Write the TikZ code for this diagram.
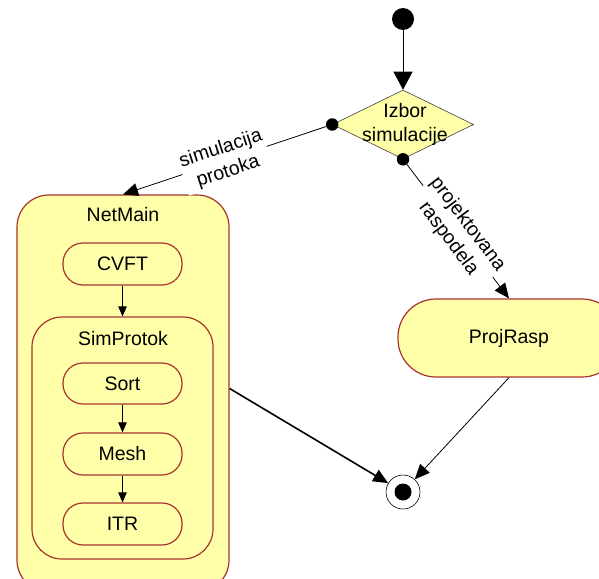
\documentclass[tikz,border=0pt]{standalone}
\usepackage{fontspec}
\setmainfont{Liberation Sans}
\usetikzlibrary{shapes.geometric,arrows.meta}
\definecolor{stfill}{HTML}{FFFFAA}
\definecolor{stdraw}{HTML}{A8332B}
\begin{document}
\begin{tikzpicture}[x=1pt,y=-1pt,
  font=\fontsize{19.5}{24}\selectfont,
  state/.style={draw=stdraw,fill=stfill,line width=1.2pt,rounded corners=#1,inner sep=0pt},
  dot/.style={circle,fill=black,minimum size=12.5pt,inner sep=0pt},
  edge/.style={-{Triangle[length=15pt,width=13pt]},line width=0.8pt},
  small/.style={-{Triangle[length=10pt,width=8.5pt]},line width=0.8pt},
  lab/.style={fill=white,align=center,inner sep=1.5pt}]
\useasboundingbox (0,0) rectangle (599,578);
% composite states
\node[state=32pt,minimum width=212pt,minimum height=397pt] (netmain) at (123,393.5) {};
\node (netmaintitle) at (123,215) {NetMain};
\node[state=20pt,minimum width=119pt,minimum height=42pt] (cvft) at (122.5,264) {CVFT};
\node[state=30pt,minimum width=181pt,minimum height=242pt] (simprotok) at (122.5,438) {};
\node (simprotoktitle) at (123,339) {SimProtok};
\node[state=20pt,minimum width=119pt,minimum height=41pt] (sort) at (122.5,383.5) {Sort};
\node[state=20pt,minimum width=119pt,minimum height=42pt] (mesh) at (122.5,454) {Mesh};
\node[state=20pt,minimum width=119pt,minimum height=42pt] (itr) at (122.5,524) {ITR};
\draw[small] (cvft.south) -- (simprotok.north);
\draw[small] (sort.south) -- (mesh.north);
\draw[small] (mesh.south) -- (itr.north);
% right state
\node[state=38pt,minimum width=222pt,minimum height=78pt] (projrasp) at (509,338) {ProjRasp};
% start and decision
\node[circle,fill=black,minimum size=22pt,inner sep=0pt] (start) at (403,19) {};
\node[diamond,draw=black!75,fill=stfill,line width=0.6pt,minimum width=141pt,minimum height=69pt,inner sep=0pt] (dec) at (403,124.5) {};
\node[align=center] (declabel) at (405,124.5) {Izbor\\simulacije};
\draw[-{Triangle[length=18pt,width=19pt]},line width=0.8pt] (start) -- (dec.north);
\node[dot] (dl) at (dec.west) {};
\node[dot] (db) at (dec.south) {};
% final
\node[circle,draw=black,fill=white,minimum size=34pt,inner sep=0pt,line width=0.6pt] (final) at (403,492) {};
\node[circle,fill=black,minimum size=17pt,inner sep=0pt] (finalin) at (final) {};
% transitions
\draw[edge] (dl) -- node[lab,rotate=18] (lab1) {simulacija\\protoka} (netmain.north);
\draw[edge] (db) -- node[lab,rotate=-53] (lab2) {projektovana\\raspodela} (projrasp.north);
\draw[edge,line width=1.6pt] ([yshift=5pt]netmain.east) -- (final);
\draw[edge] (projrasp.south) -- (final);
\end{tikzpicture}
\end{document}
